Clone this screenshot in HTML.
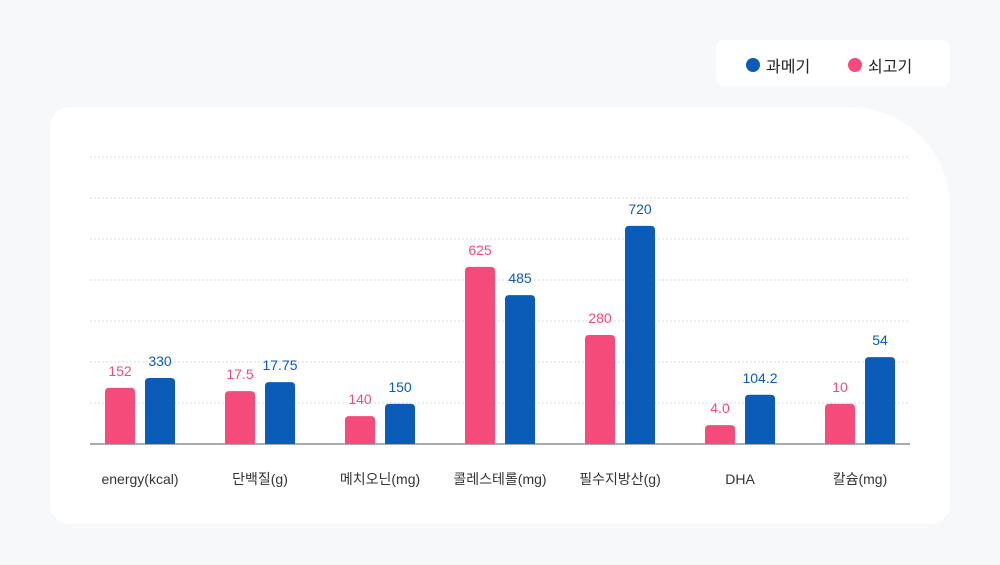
<!DOCTYPE html>
<html><head><meta charset="utf-8"><style>
body{margin:0;width:1000px;height:565px;background:#f7f8fa;font-family:"Liberation Sans","Noto Sans CJK KR",sans-serif;overflow:hidden;position:relative}
.card{position:absolute;left:50px;top:107px;width:900px;height:417px;background:#fff;border-radius:20px 100px 20px 20px}
.legend{position:absolute;left:716px;top:40px;width:234px;height:46px;background:#fff;border-radius:8px;font-size:16px;color:#222}
.li{position:absolute;top:13px;display:flex;align-items:center}
.dot{width:14px;height:14px;border-radius:50%;margin-right:6px}
svg{position:absolute;left:0;top:0}
</style></head><body>
<div class="card"></div>
<div class="legend">
<div class="li" style="left:30px"><span class="dot" style="background:#0a5cb8"></span>과메기</div>
<div class="li" style="left:132px"><span class="dot" style="background:#f54b7a"></span>쇠고기</div>
</div>
<svg id="chart" width="1000" height="565"></svg>
<script>
const categories=["energy(kcal)","단백질(g)","메치오닌(mg)","콜레스테롤(mg)","필수지방산(g)","DHA","칼슘(mg)"];
const beefLabels=["152","17.5","140","625","280","4.0","10"];
const gwamegiLabels=["330","17.75","150","485","720","104.2","54"];
const beefLevels=[1.37,1.29,0.68,4.32,2.66,0.46,0.98];
const gwamegiLevels=[1.61,1.51,0.98,3.63,5.32,1.2,2.12];
const NS="http://www.w3.org/2000/svg",svg=document.getElementById('chart');
const base=444,unit=41,x0=140,step=120;
const y=v=>base-v*unit, x=i=>x0+i*step;
function mk(t,a){const e=document.createElementNS(NS,t);for(const k in a)e.setAttribute(k,a[k]);svg.appendChild(e);return e;}
for(let g=1;g<=7;g++){const l=mk('line',{x1:90,x2:910,y1:y(g),y2:y(g),stroke:'#d5d8dd','stroke-dasharray':'2,2'});

}
const ax=mk('line',{x1:90,x2:910,y1:base,y2:base,stroke:'#555'});


function bar(cx,v,col,lab){const top=y(v);
const r=mk('path',{d:`M${cx-15},${base}V${top+4}Q${cx-15},${top} ${cx-11},${top}H${cx+11}Q${cx+15},${top} ${cx+15},${top+4}V${base}Z`,fill:col});


const t=mk('text',{x:cx,y:top-12,'text-anchor':'middle','font-size':14,fill:col});t.textContent=lab;

}
categories.forEach((c,i)=>{
bar(x(i)-20,beefLevels[i],'#f54b7a',beefLabels[i]);
bar(x(i)+20,gwamegiLevels[i],'#0a5cb8',gwamegiLabels[i]);
const t=mk('text',{x:x(i),y:484,'text-anchor':'middle','font-size':14,fill:'#333'});t.textContent=c;

});
</script></body></html>
